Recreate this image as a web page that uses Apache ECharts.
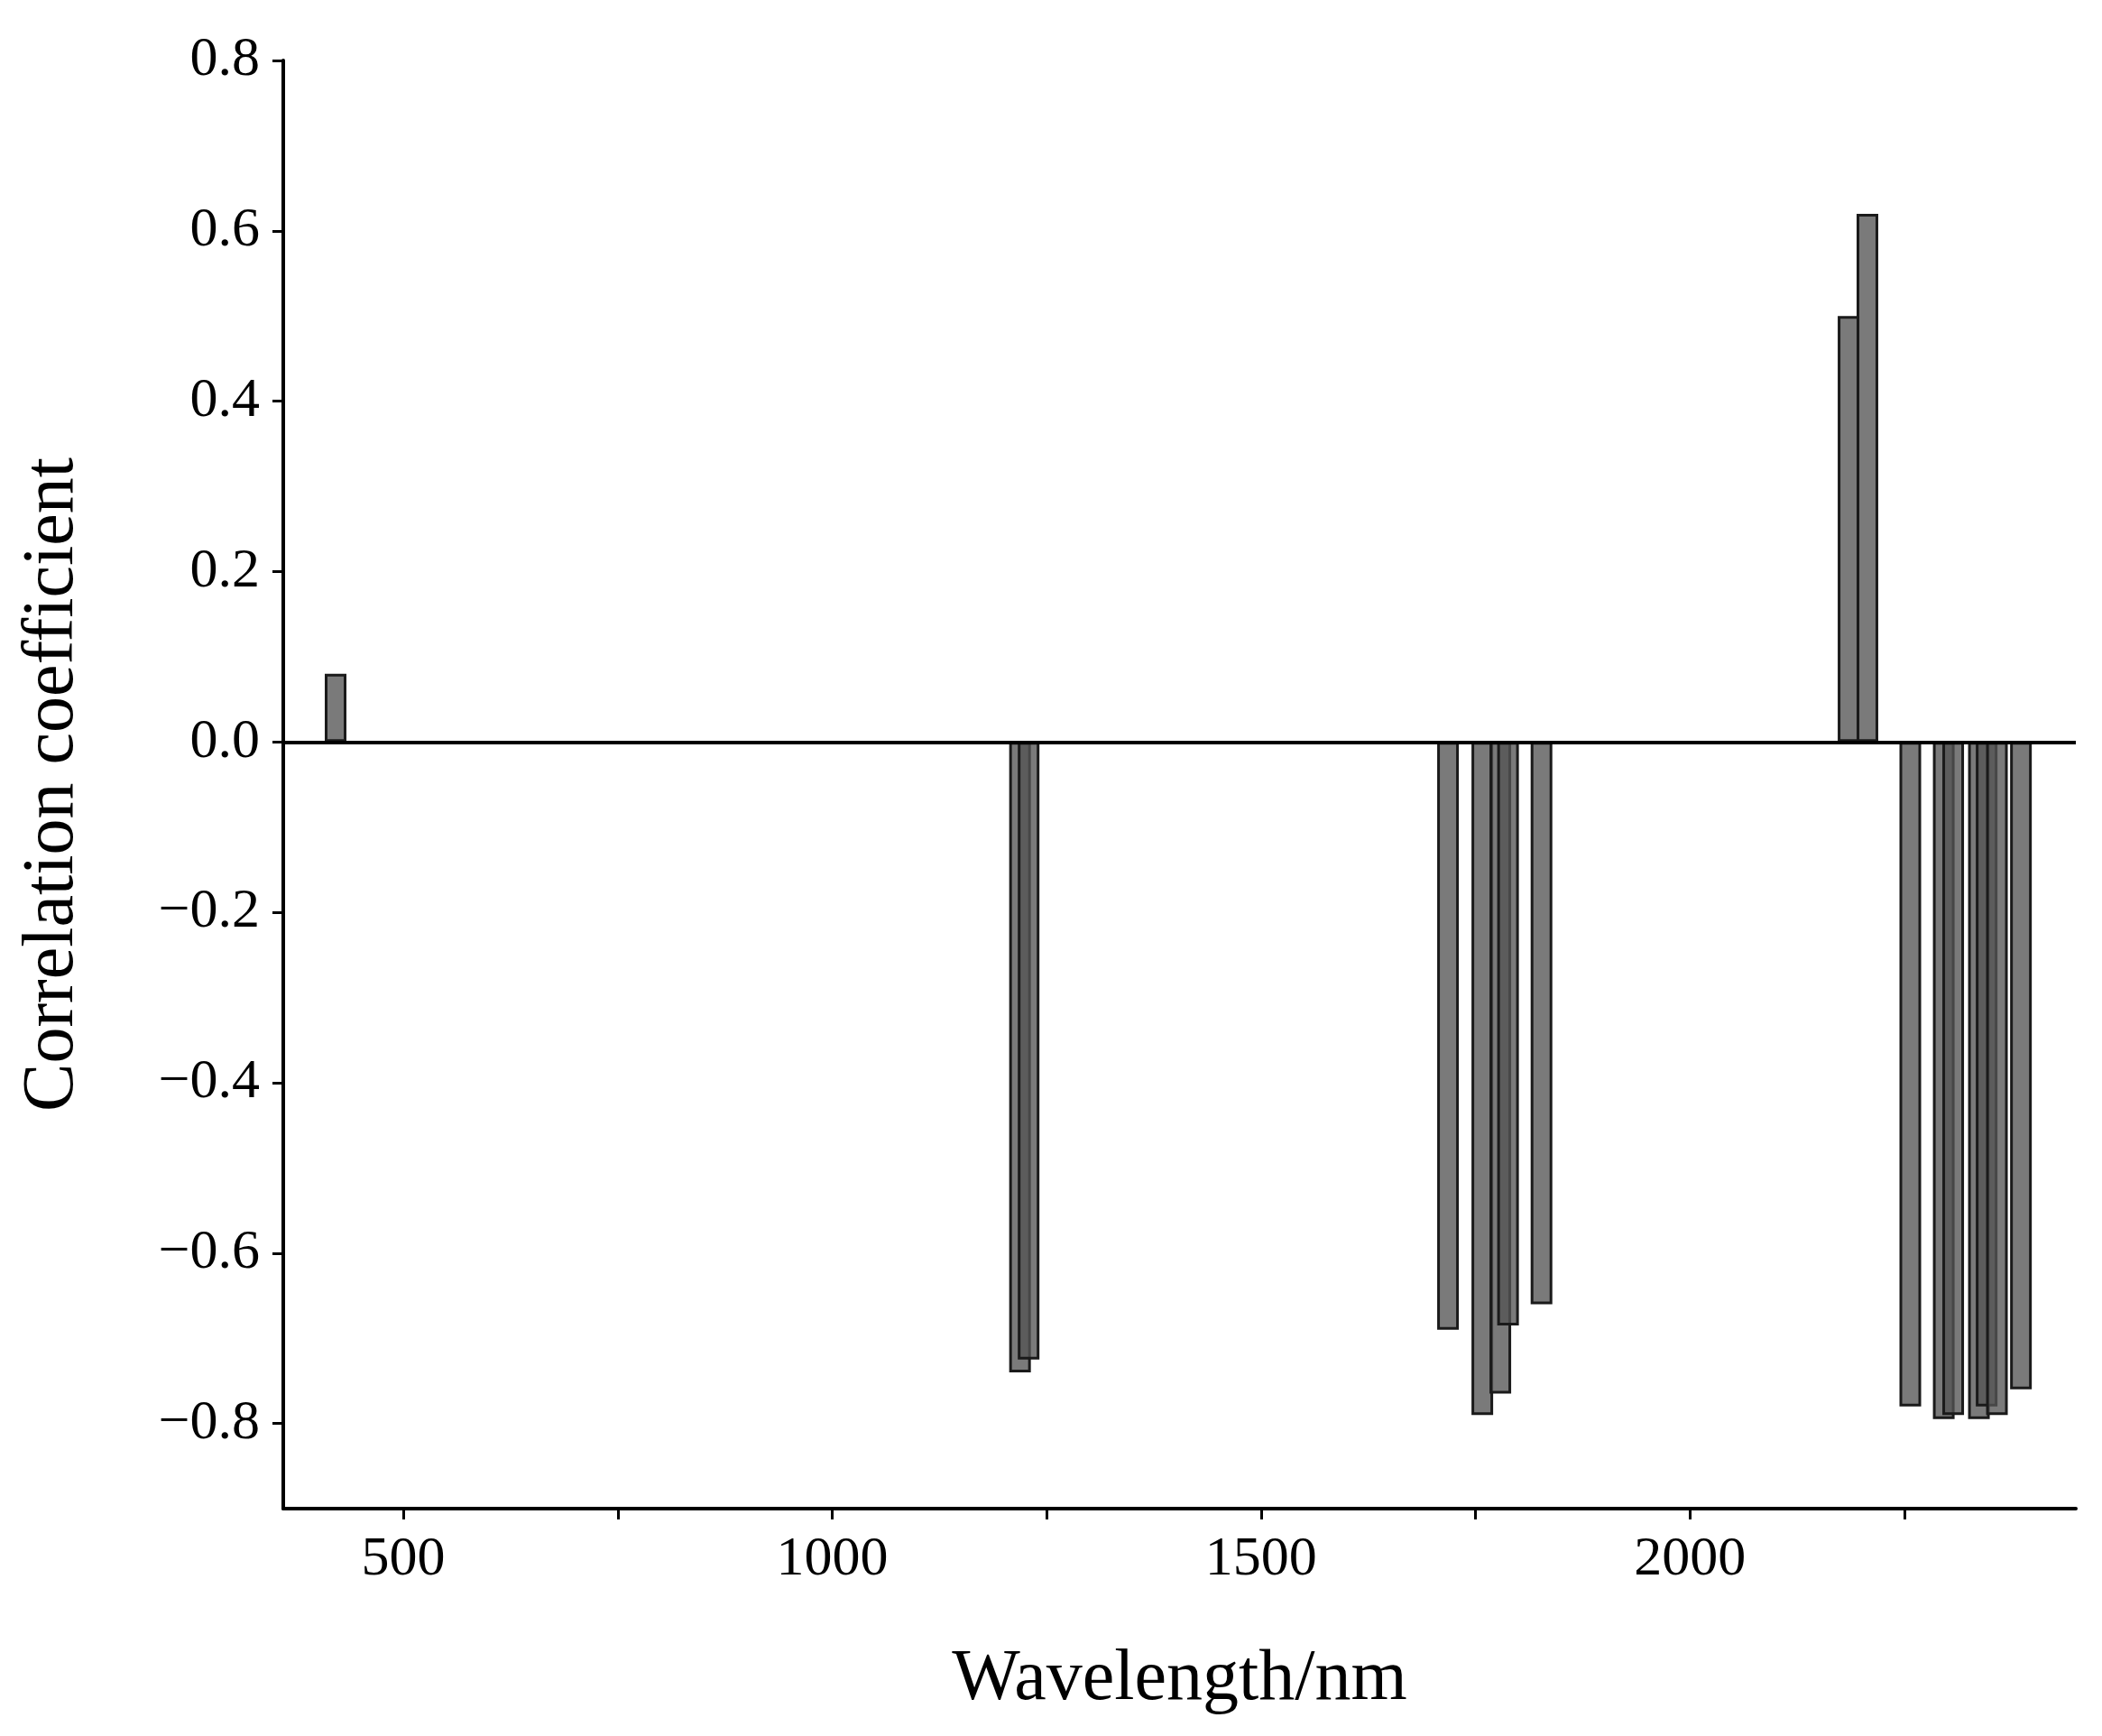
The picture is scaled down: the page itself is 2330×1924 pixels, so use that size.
<!DOCTYPE html>
<html><head><meta charset="utf-8">
<script src="https://cdn.jsdelivr.net/npm/echarts@6/dist/echarts.min.js"></script>
<style>html,body{margin:0;padding:0;background:#fff}#c{width:2330px;height:1924px}</style>
</head><body><div id="c"></div>
<script>
const wavelengths = [421, 1219, 1229, 1718, 1758, 1779, 1788, 1827, 2185, 2207, 2257, 2296, 2307, 2337, 2346, 2358, 2386];
const coefficients = [0.08, -0.74, -0.725, -0.69, -0.79, -0.765, -0.685, -0.66, 0.50, 0.62, -0.78, -0.795, -0.79, -0.795, -0.78, -0.79, -0.76];
const xLabels = [500, 1000, 1500, 2000];
const xTicks = [500, 750, 1000, 1250, 1500, 1750, 2000, 2250];
const yTicks = [-0.8, -0.6, -0.4, -0.2, 0, 0.2, 0.4, 0.6, 0.8];

const font = "'Liberation Serif', 'DejaVu Serif', serif";
const chart = echarts.init(document.getElementById('c'));
chart.setOption({
  animation: false,
  grid: {left: 314, right: 29, top: 67, bottom: 252},
  xAxis: {
    type: 'value', min: 360, max: 2450,
    name: 'Wavelength/nm', nameLocation: 'middle', nameGap: 150,
    nameTextStyle: {fontFamily: font, fontSize: 80, color: '#000'},
    axisLine: {show: true, onZero: false, lineStyle: {color: '#000', width: 4}},
    axisTick: {show: true, length: 12, customValues: xTicks, lineStyle: {color: '#000', width: 3}},
    axisLabel: {customValues: xLabels, fontFamily: font, fontSize: 62, color: '#000', margin: 26,
      formatter: v => String(v)},
    splitLine: {show: false}
  },
  yAxis: {
    type: 'value', min: -0.9, max: 0.8,
    name: 'Correlation coefficient', nameLocation: 'middle', nameGap: 215,
    nameTextStyle: {fontFamily: font, fontSize: 80, color: '#000'},
    axisLine: {show: true, onZero: false, lineStyle: {color: '#000', width: 4}},
    axisTick: {show: true, length: 12, customValues: yTicks, lineStyle: {color: '#000', width: 3}},
    axisLabel: {customValues: yTicks, fontFamily: font, fontSize: 62, color: '#000', margin: 26,
      formatter: v => (v < 0 ? '\u2212' : '') + Math.abs(v).toFixed(1)},
    splitLine: {show: false}
  },
  series: [{
    type: 'bar',
    barWidth: 24,
    data: wavelengths.map((w, i) => [w, coefficients[i]]),
    itemStyle: {color: 'rgba(85,85,85,0.78)', borderColor: '#1a1a1a', borderWidth: 3},
    markLine: {
      silent: true, symbol: 'none', label: {show: false},
      lineStyle: {color: '#000', width: 4, type: 'solid'},
      data: [{yAxis: 0}]
    }
  }]
});
</script></body></html>
